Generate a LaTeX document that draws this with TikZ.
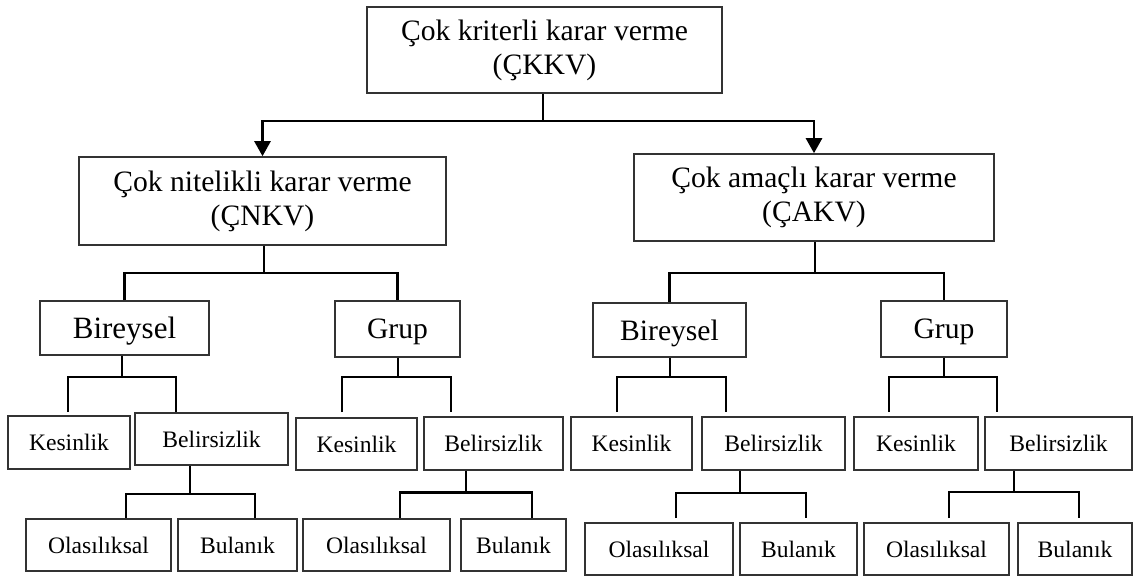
\documentclass[tikz,border=0pt]{standalone}
\usepackage{fontspec}
\setmainfont{Liberation Serif}
\usetikzlibrary{arrows.meta}
\begin{document}
\begin{tikzpicture}[x=0.5pt,y=-0.5pt,
  box/.style={draw=black!80, line width=0.8pt, inner sep=0pt, align=center},
  wh/.style 2 args={minimum width=#1*0.5pt, minimum height=#2*0.5pt},
  bigtxt/.style={font=\fontsize{14.8}{17}\selectfont},
  onetxt/.style={font=\fontsize{14.8}{17}\selectfont, text depth=0pt},
  smalltxt/.style={font=\fontsize{11.8}{14}\selectfont, text depth=0pt},
  conn/.style={line width=1.3pt},
  stem/.style={line width=1pt},
  thinstem/.style={line width=0.7pt},
  arr/.style={line width=1.3pt, -{Triangle[length=7.5pt,width=8pt]}},
]
\useasboundingbox (0,0) rectangle (1134,577);

% level 0 and 1
\node[box,bigtxt,wh={355}{86}] (top) at (544.5,50) {Çok kriterli karar verme\\(ÇKKV)};
\node[box,bigtxt,wh={367}{88}] (cnkv) at (262.5,201) {Çok nitelikli karar verme\\(ÇNKV)};
\node[box,bigtxt,wh={360}{87}] (cakv) at (814,197.5) {Çok amaçlı karar verme\\(ÇAKV)};

% level 2
\node[box,font=\fontsize{15.5}{18}\selectfont,text depth=0pt,wh={169}{54}] (b1) at (124.5,328) {Bireysel};
\node[box,onetxt,wh={125}{56}] (g1) at (397.5,329) {Grup};
\node[box,onetxt,wh={153}{54}] (b2) at (669.5,330) {Bireysel};
\node[box,onetxt,wh={126}{56}] (g2) at (944,329) {Grup};

% level 3
\node[box,smalltxt,wh={122}{53}] (k1) at (69,442.5) {Kesinlik};
\node[box,smalltxt,wh={153}{52}] (e1) at (211.5,439) {Belirsizlik};
\node[box,smalltxt,wh={121}{52}] (k2) at (356.5,444) {Kesinlik};
\node[box,smalltxt,wh={139}{53}] (e2) at (493.5,443.5) {Belirsizlik};
\node[box,smalltxt,wh={121}{53}] (k3) at (631.5,443.5) {Kesinlik};
\node[box,smalltxt,wh={143}{53}] (e3) at (773.5,443.5) {Belirsizlik};
\node[box,smalltxt,wh={124}{53}] (k4) at (916,443.5) {Kesinlik};
\node[box,smalltxt,wh={147}{53}] (e4) at (1058.5,443.5) {Belirsizlik};

% level 4
\node[box,smalltxt,wh={145}{52}] (o1) at (98.5,545) {Olasılıksal};
\node[box,smalltxt,wh={119}{52}] (u1) at (237.5,545) {Bulanık};
\node[box,smalltxt,wh={147}{52}] (o2) at (376.5,545) {Olasılıksal};
\node[box,smalltxt,wh={105}{52}] (u2) at (513.5,545) {Bulanık};
\node[box,smalltxt,wh={148}{52}] (o3) at (659,549) {Olasılıksal};
\node[box,smalltxt,wh={117}{52}] (u3) at (798.5,549) {Bulanık};
\node[box,smalltxt,wh={145}{52}] (o4) at (936.5,549) {Olasılıksal};
\node[box,smalltxt,wh={114}{52}] (u4) at (1075,549) {Bulanık};

% junctions
\coordinate (j0) at (543,121);
\coordinate (j1) at (264,273);
\coordinate (j2) at (815,273);
\coordinate (j3) at (122,377);
\coordinate (d3a) at (68,412);
\coordinate (d3b) at (176,412);
\coordinate (j4) at (398,377);
\coordinate (d4a) at (342,412);
\coordinate (d4b) at (451,412);
\coordinate (j5) at (670,377);
\coordinate (d5a) at (617,412);
\coordinate (d5b) at (726,412);
\coordinate (j6) at (944,377);
\coordinate (d6a) at (889,412);
\coordinate (d6b) at (997,412);
\coordinate (j7) at (190,494);
\coordinate (d7a) at (126,518);
\coordinate (d7b) at (255,518);
\coordinate (j8) at (466,492.5);
\coordinate (d8a) at (400,518);
\coordinate (d8b) at (532,518);
\coordinate (j9) at (740,493);
\coordinate (d9a) at (676,518);
\coordinate (d9b) at (806,518);
\coordinate (j10) at (1014,492);
\coordinate (d10a) at (949,518);
\coordinate (d10b) at (1079,518);

% connectors level 0 -> 1
\draw[thinstem] (top.south -| j0) -- (j0);
\draw[arr] (j0) -| (cnkv.north);
\draw[arr] (j0) -| (cakv.north);

% level 1 -> 2
\draw[stem] (cnkv.south -| j1) -- (j1);
\draw[conn] (b1.north) |- (j1) -| (g1.north);
\draw[stem] (cakv.south -| j2) -- (j2);
\draw[conn] (b2.north) |- (j2) -| (g2.north);

% level 2 -> 3
\draw[stem] (b1.south -| j3) -- (j3);
\draw[conn] (d3a) |- (j3) -| (d3b);
\draw[stem] (g1.south -| j4) -- (j4);
\draw[conn] (d4a) |- (j4) -| (d4b);
\draw[stem] (b2.south -| j5) -- (j5);
\draw[conn] (d5a) |- (j5) -| (d5b);
\draw[stem] (g2.south -| j6) -- (j6);
\draw[conn] (d6a) |- (j6) -| (d6b);

% level 3 -> 4
\draw[stem] (e1.south -| j7) -- (j7);
\draw[conn] (d7a) |- (j7) -| (d7b);
\draw[stem] (e2.south -| j8) -- (j8);
\draw[conn] (d8a) |- (j8) -| (d8b);
\draw[stem] (e3.south -| j9) -- (j9);
\draw[conn] (d9a) |- (j9) -| (d9b);
\draw[stem] (e4.south -| j10) -- (j10);
\draw[conn] (d10a) |- (j10) -| (d10b);
\end{tikzpicture}
\end{document}
